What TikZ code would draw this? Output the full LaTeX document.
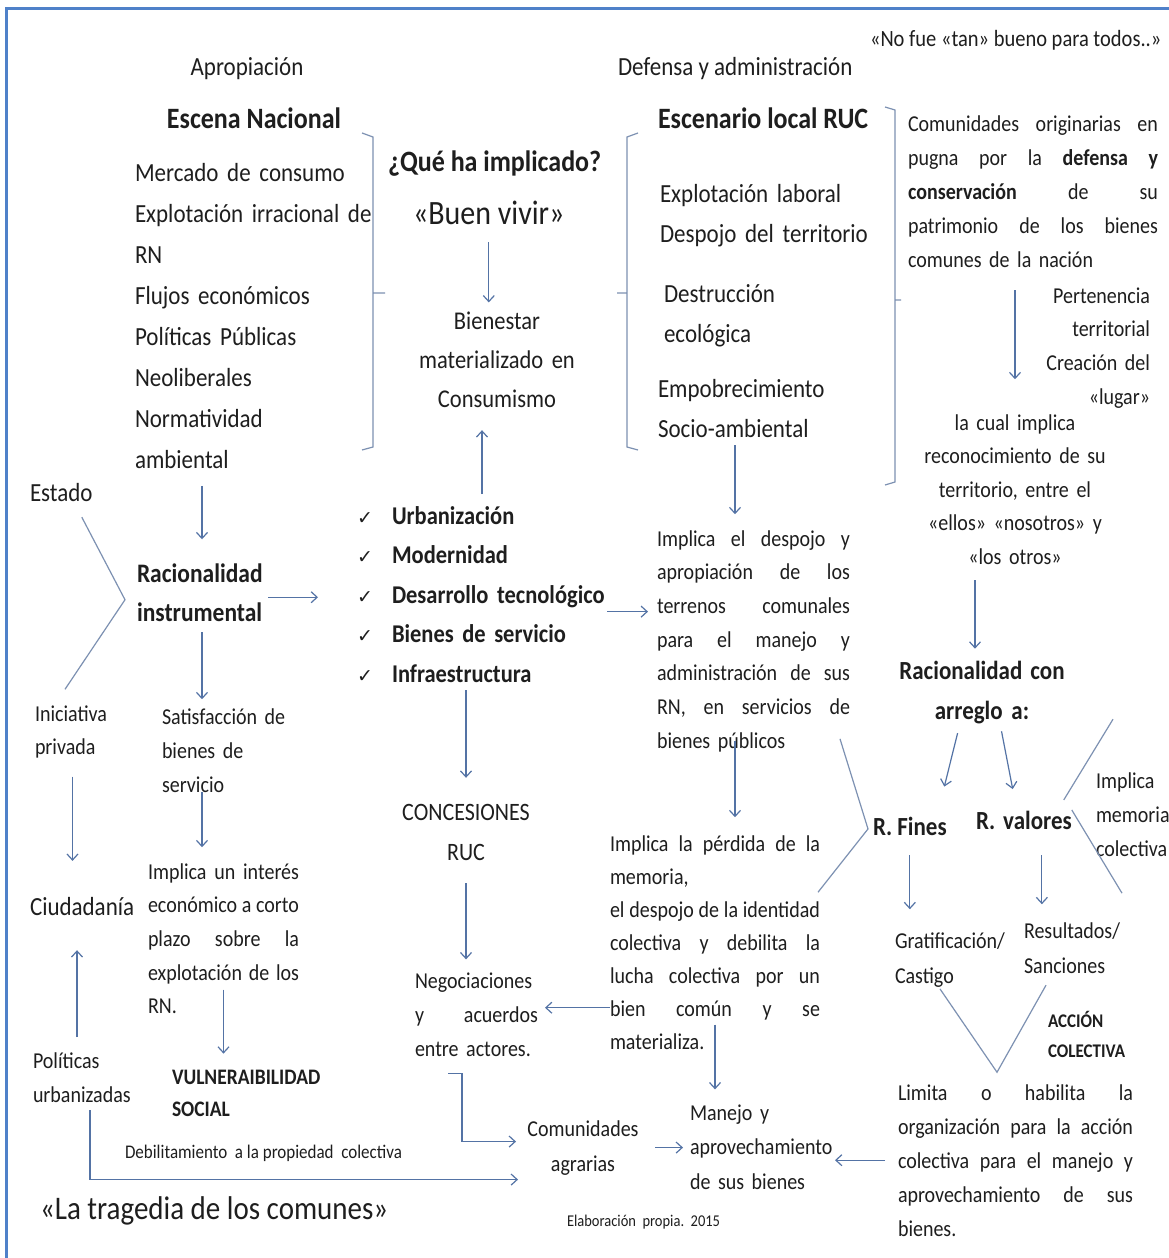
\documentclass[tikz,border=0pt]{standalone}
\usepackage{fontspec}
\setmainfont{Carlito}[FakeStretch=0.88]
\newfontfamily\dejavu{DejaVu Sans}
\usetikzlibrary{arrows.meta,calc}
\definecolor{ink}{RGB}{30,30,30}
\definecolor{lc}{RGB}{84,115,165}
\definecolor{gl}{RGB}{125,145,178}
\definecolor{framec}{RGB}{79,129,201}
\newcommand{\jl}[2]{\leavevmode\hbox to #1{\spaceskip=\fontdimen2\font plus 1fill\xspaceskip=\spaceskip\relax #2}}
\newcommand{\fs}[2]{\fontsize{\fpeval{#1*1.136}}{#2}\selectfont}
\newcommand{\ck}{\makebox[35pt][l]{\mdseries\dejavu\fontsize{19}{19}\selectfont ✓}}
\begin{document}
\begin{tikzpicture}[x=1pt,y=-1pt,
  every node/.style={inner sep=0pt, outer sep=0pt, text=ink},
  lft/.style={anchor=base west, align=left},
  ctr/.style={anchor=base, align=center},
  rgt/.style={anchor=base east, align=right},
  arr/.style={draw=lc, line width=1.2pt, -{Straight Barb[length=6pt,width=11pt]}},
  sl/.style={draw=gl, line width=1.2pt}]
\useasboundingbox (0,0) rectangle (1169,1258);
\fill[white] (0,0) rectangle (1169,1258);
\draw[framec, line width=3pt] (6,1258) -- (6,8) -- (1169,8);

% ---------- top row ----------
\node[lft, font=\fs{20.5}{20}] (nofue) at (870,46) {«No fue «tan» bueno para todos..»};
\node[ctr, font=\fs{23}{23}] (aprop) at (247,75) {Apropiación};
\node[lft, font=\fs{23}{23}] (defensa) at (618,75) {Defensa y administración};
\node[ctr, font=\bfseries\fs{26}{26}] (escnac) at (254,128) {Escena Nacional};
\node[lft, font=\bfseries\fs{26}{26}] (quehaimp) at (388,171) {¿Qué ha implicado?};
\node[lft, font=\fs{30}{30}] (buenvivir) at (413,224) {«Buen vivir»};
\node[lft, font=\bfseries\fs{26}{26}] (escloc) at (658,128) {Escenario local RUC};

% ---------- left list ----------
\node[lft, text width=240pt, font=\fs{23}{41.1}] (leftlist) at (135,181)
  {Mercado de consumo\\Explotación irracional de\\RN\\Flujos económicos\\Políticas Públicas\\Neoliberales\\Normatividad\\ambiental};
\draw[sl] (362,133) -- (373,137) -- (373,447) -- (362,450) (373,293) -- (385,293);

\node[ctr, text width=170pt, font=\fs{22.5}{39}] (bienestar) at (497,329) {Bienestar\\materializado en\\Consumismo};

% ---------- right list ----------
\draw[sl] (638,133) -- (627,137) -- (627,447) -- (638,450) (627,293) -- (617,293);
\node[lft, text width=215pt, font=\fs{23}{40}] (explab) at (660,202) {Explotación laboral\\Despojo del territorio};
\node[lft, text width=150pt, font=\fs{23}{40}] (destr) at (664,302) {Destrucción\\ecológica};
\node[lft, text width=170pt, font=\fs{23}{40}] (empob) at (658,397) {Empobrecimiento\\Socio-ambiental};
\draw[sl] (885,107) -- (895,110) -- (895,482) -- (885,485) (895,300) -- (901,300);

\node[lft, text width=250pt, font=\fs{20}{34}] (comorig) at (908,131)
  {\jl{250pt}{Comunidades originarias en}\\\jl{250pt}{pugna por la \textbf{defensa y}}\\\jl{250pt}{\textbf{conservación} de su}\\\jl{250pt}{patrimonio de los bienes}\\comunes de la nación};
\node[rgt, text width=120pt, font=\fs{20}{33.7}] (perten) at (1150,303) {Pertenencia\\territorial\\Creación del\\«lugar»};
\node[ctr, text width=200pt, font=\fs{20}{33.5}] (lacual) at (1015,430)
  {la cual implica\\reconocimiento de su\\territorio, entre el\\«ellos» «nosotros» y\\«los otros»};
\node[ctr, text width=180pt, font=\bfseries\fs{23}{40}] (raccon) at (982,679) {Racionalidad\hspace{8pt}con\\arreglo a:};
\node[lft, font=\bfseries\fs{23}{23}] (rfines) at (873,835) {R. Fines};
\node[lft, font=\bfseries\fs{23}{23}] (rvalores) at (976,829) {R.\hspace{8pt}valores};
\node[lft, text width=80pt, font=\fs{20}{34}] (implmem) at (1096,788) {Implica\\memoria\\colectiva};
\node[lft, text width=115pt, font=\fs{20}{35}] (gratif) at (895,948) {Gratificación/\\Castigo};
\node[lft, text width=95pt, font=\fs{20}{35}] (resul) at (1024,938) {Resultados/\\Sanciones};
\node[lft, text width=85pt, font=\bfseries\fs{17}{30}] (accion) at (1048,1027) {ACCIÓN\\COLECTIVA};
\node[lft, text width=235pt, font=\fs{20}{34}] (limita) at (898,1100)
  {\jl{235pt}{Limita o habilita la}\\\jl{235pt}{organización para la acción}\\\jl{235pt}{colectiva para el manejo y}\\\jl{235pt}{aprovechamiento de sus}\\bienes.};

% ---------- middle ----------
\node[lft, text width=193pt, font=\fs{20}{33.7}] (implidesp) at (657,546)
  {\jl{193pt}{Implica el despojo y}\\\jl{193pt}{apropiación de los}\\\jl{193pt}{terrenos comunales}\\\jl{193pt}{para el manejo y}\\\jl{193pt}{administración de sus}\\\jl{193pt}{RN, en servicios de}\\bienes públicos};
\node[lft, text width=210pt, font=\fs{20}{33}] (perdida) at (610,851)
  {\jl{210pt}{Implica la pérdida de la}\\memoria,\\\jl{210pt}{el despojo de la identidad}\\\jl{210pt}{colectiva y debilita la}\\\jl{210pt}{lucha colectiva por un}\\\jl{210pt}{bien común y se}\\materializa.};
\node[lft, text width=250pt, font=\bfseries\fs{22.5}{39.5}] (checks) at (357,524)
  {\ck Urbanización\\\ck Modernidad\\\ck Desarrollo tecnológico\\\ck Bienes de servicio\\\ck Infraestructura};
\node[ctr, text width=140pt, font=\fs{22}{40}] (concesiones) at (466,820) {CONCESIONES\\RUC};
\node[lft, text width=123pt, font=\fs{20}{34}] (negoc) at (415,988) {Negociaciones\\\jl{123pt}{y acuerdos}\\entre actores.};
\node[lft, text width=145pt, font=\fs{20}{34.5}] (manejo) at (690,1120) {Manejo y\\aprovechamiento\\de sus bienes};
\node[ctr, text width=120pt, font=\fs{20}{35}] (comagr) at (583,1136) {Comunidades\\agrarias};
\node[lft, font=\fs{14.5}{14.5}] (elab) at (567,1226) {Elaboración\ \ propia.\ \ 2015};

% ---------- left ----------
\node[lft, font=\fs{23}{23}] (estado) at (30,501) {Estado};
\node[lft, text width=130pt, font=\bfseries\fs{23.5}{39}] (racinst) at (137,582) {Racionalidad\\instrumental};
\node[lft, text width=75pt, font=\fs{20}{33}] (inic) at (35,721) {Iniciativa\\privada};
\node[lft, text width=125pt, font=\fs{20}{34}] (satisf) at (162,724) {Satisfacción de\\bienes de\\servicio};
\node[lft, font=\fs{23}{23}] (ciudad) at (30,915) {Ciudadanía};
\node[lft, text width=151pt, font=\fs{20}{33.7}] (implint) at (148,879)
  {\jl{151pt}{Implica un interés}\\\jl{151pt}{económico a corto}\\\jl{151pt}{plazo sobre la}\\\jl{151pt}{explotación de los}\\RN.};
\node[lft, text width=98pt, font=\fs{20}{34}] (polit) at (33,1068) {Políticas\\urbanizadas};
\node[lft, text width=160pt, font=\bfseries\fs{19.5}{32}] (vulner) at (172,1084) {VULNERAIBILIDAD\\SOCIAL};
\node[lft, font=\fs{17}{17}] (debil) at (125,1158) {Debilitamiento\ \ a la propiedad\ \ colectiva};
\node[lft, font=\fs{29}{29}] (tragedia) at (40,1219) {«La tragedia de los comunes»};

% ---------- arrows ----------
\draw[arr, shorten <=18pt, shorten >=9pt] (buenvivir.south) -- (buenvivir.south |- bienestar.north);
\draw[arr, shorten <=12pt, shorten >=23pt] (checks.north) -- (checks.north |- bienestar.south);
\draw[arr, shorten <=17pt, shorten >=24pt] (racinst.north |- leftlist.south) -- (racinst.north);
\path ([yshift=-5pt]racinst.east) coordinate (r4);
\draw[arr, shorten <=1pt, shorten >=39pt] (r4) -- (r4 -| checks.west);
\draw[arr, shorten <=11pt, shorten >=9pt] (racinst.south) -- (racinst.south |- satisf.north);
\draw[arr, shorten >=16pt] (racinst.south |- satisf.south) -- (racinst.south |- implint.north);
\draw[arr, shorten <=51pt, shorten >=16pt] (implint.center) -- (implint.center |- vulner.north);
\draw[arr, shorten <=19pt, shorten >=36pt] (inic.south) -- (inic.south |- ciudad.north);
\path ([xshift=-5pt]polit.north) coordinate (p9);
\draw[arr, shorten <=15pt, shorten >=35pt] (p9) -- (p9 |- ciudad.south);
\draw[arr, shorten <=8pt, shorten >=26pt] (concesiones.north |- checks.south) -- (concesiones.north);
\draw[arr, shorten <=23pt, shorten >=13pt] (concesiones.south) -- (concesiones.south |- negoc.north);
\path ([yshift=-17.5pt]checks.east) coordinate (c12);
\draw[arr, shorten >=9pt] (c12) -- (c12 -| implidesp.west);
\path ([xshift=-8pt]empob.south) coordinate (e13);
\draw[arr, shorten <=8pt, shorten >=16pt] (e13) -- (e13 |- implidesp.north);
\path ([xshift=-18.5pt]implidesp.center) coordinate (i14);
\draw[arr, shorten <=100pt, shorten >=18pt] (i14) -- (i14 |- perdida.north);
\path ([yshift=-65.5pt]perdida.west) coordinate (p15);
\draw[arr, shorten >=7pt] (p15) -- (p15 -| negoc.east);
\draw[arr, shorten <=82.5pt, shorten >=15pt] (perdida.center) -- (perdida.center |- manejo.north);
\draw[arr, shorten >=7pt] ([shift={(33,17)}]negoc.south west) -- ++(14,0) |- ([yshift=6pt]comagr.west);
\draw[arr, shorten <=8pt, shorten >=5pt] ([xshift=8pt]polit.south) |- ([yshift=-32pt]comagr.west);
\draw[arr, shorten <=12pt, shorten >=7pt] (comagr.east) -- (comagr.east -| manejo.west);
\draw[arr, shorten <=13pt] (limita.west) -- (limita.west -| manejo.east);
\draw[arr, shorten <=23pt, shorten >=35pt] (lacual.north |- comorig.south) -- (lacual.north);
\path ([xshift=-7pt]raccon.north) coordinate (r22);
\draw[arr, shorten <=16pt, shorten >=12pt] (r22 |- lacual.south) -- (r22);
\draw[arr, shorten <=10pt, shorten >=31pt] ([xshift=-22pt]raccon.south) -- ([xshift=27pt]rfines.north);
\draw[arr, shorten <=8pt, shorten >=22pt] ([xshift=18pt]raccon.south) -- ([xshift=-7pt]rvalores.north);
\draw[arr, shorten <=20pt, shorten >=23pt] (rfines.south) -- (rfines.south |- gratif.north);
\path ([xshift=18pt]rvalores.south) coordinate (r26);
\draw[arr, shorten <=26pt, shorten >=18pt] (r26) -- (r26 |- resul.north);

% ---------- plain connecting lines ----------
\draw[sl] ([shift={(20.5,16)}]estado.south) -- ([shift={(-12,7.5)}]racinst.west) -- ([shift={(-7.5,-16)}]inic.north);
\draw[sl] ([shift={(-10,-13)}]implidesp.south east) -- ([shift={(-5,3)}]rfines.west) -- ([shift={(-2,57)}]perdida.north east);
\draw[sl] ([shift={(-23,-53)}]implmem.north) -- ([shift={(-8,-20)}]rvalores.east);
\draw[sl] ([shift={(0,-10)}]rvalores.east) -- ([shift={(-14,37)}]implmem.south);
\draw[sl] ([shift={(-12.5,2)}]gratif.south) -- ([shift={(-18.5,-12)}]limita.north) -- ([shift={(-25.5,12)}]resul.south);
\end{tikzpicture}
\end{document}
